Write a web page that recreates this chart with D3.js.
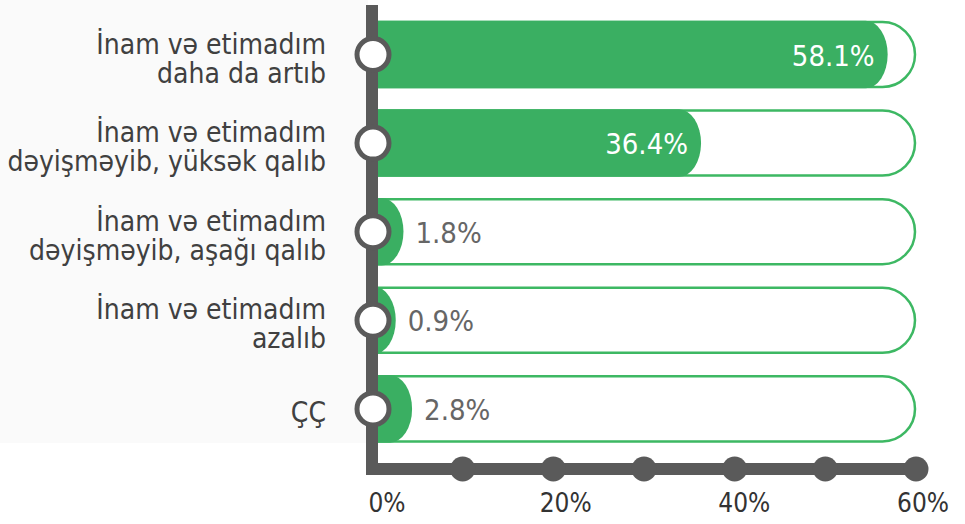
<!DOCTYPE html>
<html>
<head>
<meta charset="utf-8">
<script src="https://cdn.jsdelivr.net/npm/d3@7"></script>
<style>
  body { margin: 0; background: #fff; }
  svg { display: block; font-family: "DejaVu Sans Condensed", "DejaVu Sans", Verdana, sans-serif; font-stretch: condensed; }
</style>
</head>
<body>
<div id="chart"></div>
<script>
// chart data
var categories = [
  ["İnam və etimadım", "daha da artıb"],
  ["İnam və etimadım", "dəyişməyib, yüksək qalıb"],
  ["İnam və etimadım", "dəyişməyib, aşağı qalıb"],
  ["İnam və etimadım", "azalıb"],
  ["ÇÇ"]
];
var values = [58.1, 36.4, 1.8, 0.9, 2.8];
var tickValues = [0, 20, 40, 60];
var dotValues = [10, 20, 30, 40, 50, 60];

var width = 965, height = 524;
var green = "#3aaf62", outline = "#3db863", gray = "#5a5a5a";

var svg = d3.select("#chart").append("svg")
    .attr("width", width)
    .attr("height", height);

// scales
var axisX = 372;
var x = d3.scaleLinear().domain([0, 60]).range([388, 904]);     // bar ends
var xTrack = d3.scaleLinear().domain([0, 60]).range([axisX, 916]); // track + dots
var xTick = d3.scaleLinear().domain([0, 60]).range([387, 923]);  // tick labels
var y = d3.scaleBand()
    .domain(d3.range(values.length))
    .range([22, 441.4])
    .paddingInner(0.266)
    .paddingOuter(0);

var bh = y.bandwidth();

// faint panel behind labels
svg.append("rect")
    .attr("x", 0).attr("y", 0)
    .attr("width", axisX - 4).attr("height", 443)
    .attr("fill", "#fafafa");

// background (outlined) bars
function trackPath(top) {
  var r = bh / 2, x1 = xTrack(60) - 1;
  return "M" + axisX + "," + top +
    "H" + (x1 - r) +
    "A" + r + "," + r + " 0 0 1 " + (x1 - r) + "," + (top + bh) +
    "H" + axisX;
}

var rows = svg.selectAll("g.row")
    .data(values)
  .enter().append("g")
    .attr("class", "row");

rows.append("path")
    .attr("d", function(d, i){ return trackPath(y(i)); })
    .attr("fill", "#fff")
    .attr("stroke", outline)
    .attr("stroke-width", 2.5);

// green bars with an elliptical end cap
rows.append("path")
    .attr("d", function(d, i){
      var top = y(i), xe = x(d);
      var rx = Math.min(22, xe - axisX), ry = bh / 2;
      return "M" + axisX + "," + (top - 1.25) +
        "H" + (xe - rx) +
        "A" + rx + "," + (ry + 1.25) + " 0 0 1 " + (xe - rx) + "," + (top + bh + 1.25) +
        "H" + axisX + "Z";
    })
    .attr("fill", green);

// value labels
rows.append("text")
    .attr("x", function(d){ return d > 10 ? x(d) - 13 : x(d) + 12; })
    .attr("y", function(d, i){ return y(i) + bh / 2 + 11; })
    .attr("text-anchor", function(d){ return d > 10 ? "end" : "start"; })
    .attr("fill", function(d){ return d > 10 ? "#fff" : "#666"; })
    .style("font-size", "29px")
    .text(function(d){ return d.toFixed(1) + "%"; });

// category labels
svg.selectAll("text.cat")
    .data(categories)
  .enter().append("text")
    .attr("class", "cat")
    .attr("text-anchor", "end")
    .attr("fill", "#404040")
    .style("font-size", "28px")
    .each(function(lines, i){
      var cy = y(i) + bh / 2;
      var first = cy + 13.5 - 14.5 * (lines.length - 1);
      d3.select(this).selectAll("tspan")
          .data(lines)
        .enter().append("tspan")
          .attr("x", 326)
          .attr("y", function(l, j){ return first + j * 29; })
          .text(function(l){ return l; });
    });

// axis lines
svg.append("line")
    .attr("x1", axisX).attr("x2", axisX)
    .attr("y1", 5).attr("y2", 475)
    .attr("stroke", gray)
    .attr("stroke-width", 12);

svg.append("line")
    .attr("x1", axisX - 6).attr("x2", xTrack(60))
    .attr("y1", 469).attr("y2", 469)
    .attr("stroke", gray)
    .attr("stroke-width", 12);

svg.selectAll("circle.dot")
    .data(dotValues)
  .enter().append("circle")
    .attr("class", "dot")
    .attr("cx", function(d){ return xTrack(d); })
    .attr("cy", 469)
    .attr("r", 12.5)
    .attr("fill", gray);

// row markers on the vertical axis
svg.selectAll("circle.marker")
    .data(values)
  .enter().append("circle")
    .attr("class", "marker")
    .attr("cx", axisX + 1)
    .attr("cy", function(d, i){ return y(i) + bh / 2; })
    .attr("r", 16)
    .attr("fill", "#fff")
    .attr("stroke", gray)
    .attr("stroke-width", 5);

// tick labels
svg.selectAll("text.tick")
    .data(tickValues)
  .enter().append("text")
    .attr("class", "tick")
    .attr("x", function(d){ return xTick(d); })
    .attr("y", 512)
    .attr("text-anchor", "middle")
    .attr("fill", "#333")
    .style("font-size", "26px")
    .text(function(d){ return d + "%"; });
</script>
</body>
</html>
